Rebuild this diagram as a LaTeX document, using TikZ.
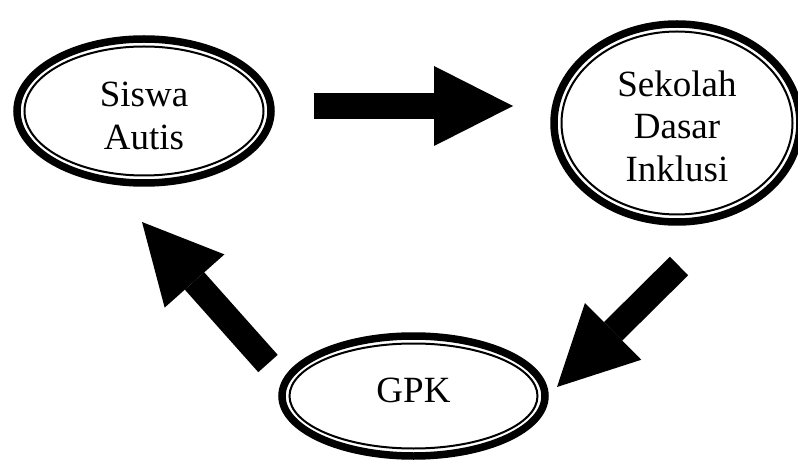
\documentclass[tikz,border=0pt]{standalone}
\usepackage{fontspec}
\setmainfont{Liberation Serif}
\usetikzlibrary{
  arrows.meta,
  shapes.geometric,
}
\tikzset{
  bubble/.style={ellipse, draw, line width=7.5pt, inner sep=0pt, align=center,
    font=\fontsize{37}{42.5}\selectfont},
  ring/.style={line width=2pt},
  bigarrow/.style={line width=26pt,
    -{Triangle[width=80pt,length=79pt,line width=0pt]}},
}

\begin{document}
\begin{tikzpicture}[x=1pt, y=-1pt]
      \useasboundingbox (0,0) rectangle (798,465);
      \clip (0,0) rectangle (798,465);
      % the three places
      \node [bubble, minimum width=254pt, minimum height=144pt]
            at (144,111) (siswa) {\rule{0pt}{34pt}Siswa\\Autis};
      \draw [ring] (siswa.center) ellipse [x radius=119.5pt, y radius=64.5pt];
      \node [bubble, minimum width=246pt, minimum height=198pt]
            at (677,123) (sekolah) {\rule{0pt}{31.5pt}Sekolah\\Dasar\\Inklusi};
      \draw [ring] (sekolah.center) ellipse [x radius=115.5pt, y radius=91.5pt];
      \node [bubble, minimum width=263pt, minimum height=120pt, text depth=12pt]
            at (413.5,396) (gpk) {GPK};
      \draw [ring] (gpk.center) ellipse [x radius=124pt, y radius=52.5pt];
      % block arrows between them
      \coordinate (sisout) at (314,106);
      \coordinate (sekin) at (513,106);
      \coordinate (sekout) at (679,266);
      \coordinate (gpkin) at (557,387);
      \coordinate (gpkout) at (268,363.5);
      \coordinate (sisin) at (142,222);
      \draw [bigarrow] (sisout) -- (sekin);
      \draw [bigarrow] (sekout) -- (gpkin);
      \draw [bigarrow] (gpkout) -- (sisin);
    \end{tikzpicture}
\end{document}
